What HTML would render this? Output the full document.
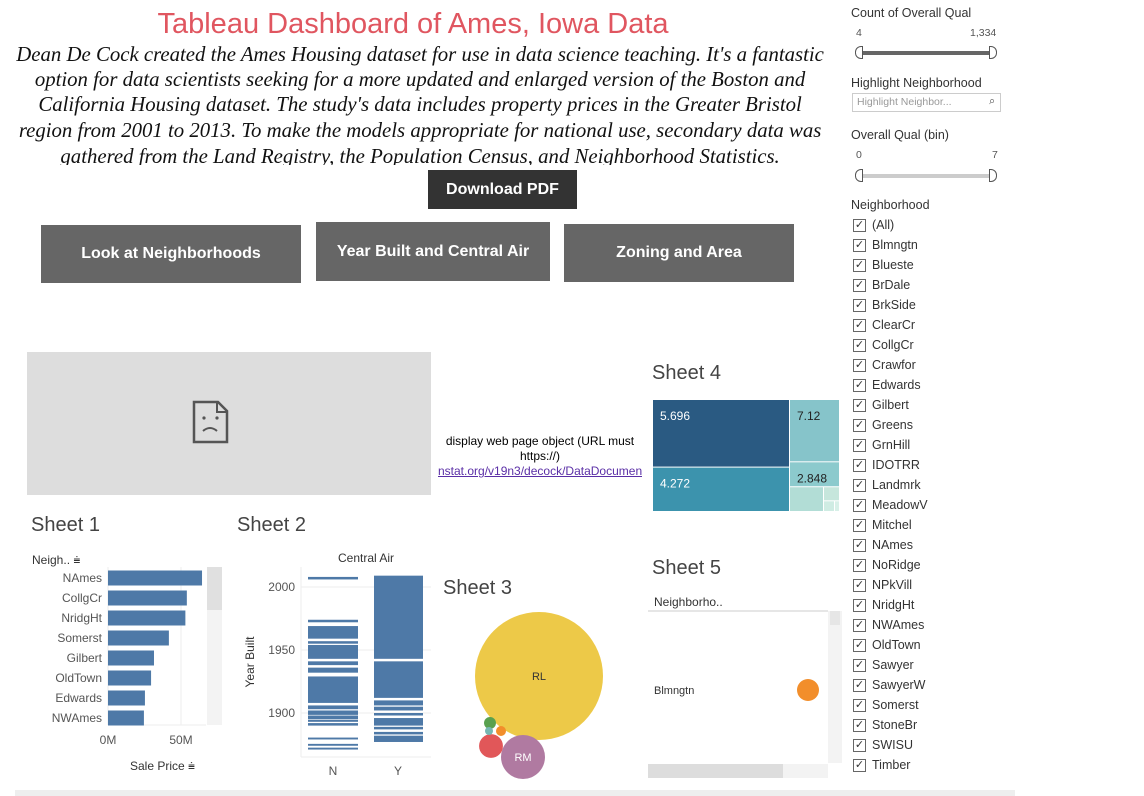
<!DOCTYPE html>
<html><head><meta charset="utf-8">
<style>
*{box-sizing:border-box;margin:0;padding:0}
body{width:1144px;height:796px;background:#fff;position:relative;overflow:hidden;font-family:"Liberation Sans",sans-serif;color:#333}
.abs{position:absolute}
.btn{position:absolute;background:#666;color:#fff;font-weight:bold;font-size:16px;display:flex;align-items:center;justify-content:center}
.para{position:absolute;left:0;width:840px;text-align:center;font-family:"Liberation Serif",serif;font-style:italic;font-size:21px;color:#111;white-space:nowrap;transform:scaleX(0.99);transform-origin:428px 0}
.sheet{position:absolute;font-size:20px;color:#444}
.cb{position:absolute;left:853px;font-size:12.5px;color:#333;height:20px;display:flex;align-items:center}
.cb span.box{width:13px;height:13px;border:1px solid #666;margin-right:6px;font-size:11px;line-height:11px;text-align:center;color:#333}
</style></head><body>
<div class="abs" style="left:0;width:826px;top:8px;text-align:center;font-size:29px;color:#e05660">Tableau Dashboard of Ames, Iowa Data</div>
<div class="abs" style="left:0;top:42px;width:845px;height:123px;overflow:hidden">
<div class="para" style="top:0">Dean De Cock created the Ames Housing dataset for use in data science teaching. It's a fantastic</div>
<div class="para" style="top:25px">option for data scientists seeking for a more updated and enlarged version of the Boston and</div>
<div class="para" style="top:50px">California Housing dataset. The study's data includes property prices in the Greater Bristol</div>
<div class="para" style="top:76px">region from 2001 to 2013. To make the models appropriate for national use, secondary data was</div>
<div class="para" style="top:102px">gathered from the Land Registry, the Population Census, and Neighborhood Statistics.</div>
</div>
<div class="btn" style="left:428px;top:170px;width:149px;height:39px;background:#333">Download PDF</div>
<div class="btn" style="left:41px;top:225px;width:260px;height:58px">Look at Neighborhoods</div>
<div class="btn" style="left:316px;top:222px;width:234px;height:59px">Year Built and Central Air</div>
<div class="btn" style="left:564px;top:224px;width:230px;height:58px">Zoning and Area</div>

<div class="abs" style="left:27px;top:352px;width:404px;height:143px;background:#ddd">
<svg width="404" height="143"><path d="M167 50 h24 l9 9 v31 h-33 z" fill="none" stroke="#555" stroke-width="2.5"/><path d="M190 50 v10 h10" fill="none" stroke="#555" stroke-width="2"/><circle cx="177" cy="66" r="1.6" fill="#555"/><circle cx="190" cy="66" r="1.6" fill="#555"/><path d="M176 79 q7 -6 14 0" fill="none" stroke="#555" stroke-width="2"/></svg></div>
<div class="abs" style="left:438px;top:434px;width:204px;font-size:12px;color:#000;text-align:center;line-height:15px;overflow:hidden;white-space:nowrap">display web page object (URL must<br>https://)<br><span style="color:#5a2ea6;text-decoration:underline;display:block;text-align:right">nstat.org/v19n3/decock/DataDocumentation</span></div>

<div class="sheet" style="left:652px;top:362px">Sheet 4</div>
<div class="sheet" style="left:31px;top:514px">Sheet 1</div>
<div class="sheet" style="left:237px;top:514px">Sheet 2</div>
<div class="sheet" style="left:443px;top:577px">Sheet 3</div>
<div class="sheet" style="left:652px;top:557px">Sheet 5</div>

<svg id="charts" class="abs" style="left:0;top:0" width="1144" height="796" font-family="Liberation Sans, sans-serif"></svg>

<div class="abs" style="left:851px;top:6px;font-size:12.5px">Count of Overall Qual</div>
<div class="abs" style="left:856px;top:27px;font-size:10.5px;color:#555">4</div>
<div class="abs" style="left:970px;top:27px;font-size:10.5px;color:#555">1,334</div>
<div class="abs" style="left:857px;top:51px;width:136px;height:4px;background:#666"></div>
<div class="abs" style="left:855px;top:46px;width:8px;height:13px;border:1px solid #555;border-radius:6px 0 0 6px;background:#fff"></div>
<div class="abs" style="left:989px;top:46px;width:8px;height:13px;border:1px solid #555;border-radius:0 6px 6px 0;background:#fff"></div>
<div class="abs" style="left:851px;top:76px;font-size:12.5px">Highlight Neighborhood</div>
<div class="abs" style="left:852px;top:93px;width:149px;height:19px;border:1px solid #ccc;font-size:10.5px;color:#999;padding:2px 4px">Highlight Neighbor...<span style="position:absolute;right:5px;top:1px;color:#444">⌕</span></div>
<div class="abs" style="left:851px;top:128px;font-size:12.5px">Overall Qual (bin)</div>
<div class="abs" style="left:856px;top:149px;font-size:10.5px;color:#555">0</div>
<div class="abs" style="left:992px;top:149px;font-size:10.5px;color:#555">7</div>
<div class="abs" style="left:857px;top:174px;width:136px;height:4px;background:#ccc"></div>
<div class="abs" style="left:855px;top:169px;width:8px;height:13px;border:1px solid #555;border-radius:6px 0 0 6px;background:#fff"></div>
<div class="abs" style="left:989px;top:169px;width:8px;height:13px;border:1px solid #555;border-radius:0 6px 6px 0;background:#fff"></div>
<div class="abs" style="left:851px;top:198px;font-size:12.5px">Neighborhood</div>
<div id="cblist"></div>
<div class="abs" style="left:15px;top:790px;width:1000px;height:6px;background:#eee"></div>

<script>
const nbList=["(All)","Blmngtn","Blueste","BrDale","BrkSide","ClearCr","CollgCr","Crawfor","Edwards","Gilbert","Greens","GrnHill","IDOTRR","Landmrk","MeadowV","Mitchel","NAmes","NoRidge","NPkVill","NridgHt","NWAmes","OldTown","Sawyer","SawyerW","Somerst","StoneBr","SWISU","Timber"];
const s1Cats=["NAmes","CollgCr","NridgHt","Somerst","Gilbert","OldTown","Edwards","NWAmes"];
const s1Vals=[64.4,54,53,41.7,31.5,29.5,25.3,24.6];
const s1Ticks=[0,50];
const s2Ticks=[1900,1950,2000];
const s2N=[[2006,2008],[1972,1974],[1959,1969],[1955,1957],[1943,1954],[1938,1941],[1932,1936],[1908,1929],[1903,1906],[1898.5,1902],[1895,1898],[1893,1894.5],[1890,1892],[1879,1880.5],[1874,1875.5],[1871,1872.5]];
const s2Y=[[1943,2009],[1912,1941],[1906,1910],[1902,1905],[1898,1900],[1890,1896],[1887,1889],[1883,1885],[1877,1882]];
const s3Labels=["RL","RM","C","FV","RH","A"];
const s3Vals=[1151,136,40,7,10,4.5];
const tmVals=[5.696,4.272,7.12,2.848,1.0,0.4,0.2,0.1];
const s5Cats=["Blmngtn"];
const s5Vals=[1];

const NS="http://www.w3.org/2000/svg";
const svg=document.getElementById('charts');
function mk(t,a,p){const e=document.createElementNS(NS,t);for(const k in a)e.setAttribute(k,a[k]);(p||svg).appendChild(e);return e;}
function txt(x,y,s,a){const e=mk('text',Object.assign({x:x,y:y,'font-size':12,fill:'#555'},a||{}));e.textContent=s;return e;}

const cbl=document.getElementById('cblist');
nbList.forEach((n,i)=>{const d=document.createElement('div');d.className='cb';d.style.top=(215+i*20)+'px';


d.innerHTML='<span class="box">✓</span>'+n;cbl.appendChild(d);});

const x1=v=>108+v*1.46, y1=i=>578+i*20;
s1Ticks.forEach(t=>{mk('line',{x1:x1(t),x2:x1(t),y1:567,y2:725,stroke:'#eee'});txt(x1(t),744,t+'M',{'text-anchor':'middle'});});
mk('line',{x1:108,x2:206,y1:725,y2:725,stroke:'#eee'});
s1Cats.forEach((c,i)=>{const r=mk('rect',{x:x1(0),y:y1(i)-7.5,width:x1(s1Vals[i])-x1(0),height:15,fill:'#4e79a7'});


txt(102,y1(i)+4,c,{'text-anchor':'end'});});
mk('rect',{x:207,y:567,width:15,height:158,fill:'#f3f3f3'});
mk('rect',{x:207,y:567,width:15,height:43,fill:'#e0e0e0'});
txt(32,564,'Neigh.. ⩧',{fill:'#333'});
txt(130,770,'Sale Price ⩧',{fill:'#333'});

const y2=v=>587-(v-2000)*1.26;
s2Ticks.forEach(t=>{mk('line',{x1:301,x2:431,y1:y2(t),y2:y2(t),stroke:'#eee'});txt(295,y2(t)+4,t,{'text-anchor':'end'});});
mk('line',{x1:301,x2:301,y1:567,y2:757,stroke:'#eee'});
mk('line',{x1:301,x2:431,y1:757,y2:757,stroke:'#eee'});
txt(366,562,'Central Air',{'text-anchor':'middle',fill:'#333'});
txt(254,662,'Year Built',{'text-anchor':'middle',fill:'#333',transform:'rotate(-90 254 662)'});
txt(333,775,'N',{'text-anchor':'middle'});txt(398,775,'Y',{'text-anchor':'middle'});
s2N.forEach(s=>{const r=mk('rect',{x:308,y:y2(s[1]),width:50,height:Math.max(1.5,y2(s[0])-y2(s[1])),fill:'#4e79a7'});

});
s2Y.forEach(s=>{const r=mk('rect',{x:374,y:y2(s[1]),width:49,height:Math.max(1.5,y2(s[0])-y2(s[1])),fill:'#4e79a7'});

});

const s3Pos=[[539,676],[523,757],[491,746],[501,731],[490,723],[489,731]];
const s3Col=['#edc948','#b07aa1','#e15759','#f28e2b','#59a14f','#76b7b2'];
s3Vals.forEach((v,i)=>{const r=64*Math.sqrt(v/s3Vals[0]);const c=mk('circle',{cx:s3Pos[i][0],cy:s3Pos[i][1],r:Math.max(3.5,r),fill:s3Col[i]});


if(i<2)txt(s3Pos[i][0],s3Pos[i][1]+4,s3Labels[i],{'text-anchor':'middle',fill:i==0?'#333':'#fff','font-size':11});});

const tmCol=['#2a5a82','#3c93ad','#86c4ca','#8ccacd','#b2ddd6','#c6e6dc','#cfece3','#d8f0e8'];
const L0=653,L1=789,R1=839,T=400,B=511;
const leftSum=tmVals[0]+tmVals[1];
const hA=(B-T)*tmVals[0]/leftSum*1.05;
[[L0,T,L1-L0,hA],[L0,T+hA+1,L1-L0,B-T-hA-1]].forEach((g,i)=>{const r=mk('rect',{x:g[0],y:g[1],width:g[2],height:g[3],fill:tmCol[i]});


txt(g[0]+7,g[1]+20,tmVals[i].toFixed(3),{fill:'#fff','font-size':12});});
const rs=tmVals.slice(2).reduce((a,b)=>a+b,0);
let yy=T;
[2,3].forEach(i=>{const h=(B-T)*tmVals[i]/rs*0.92;const r=mk('rect',{x:L1+1,y:yy,width:R1-L1-1,height:h-1,fill:tmCol[i]});


txt(L1+8,yy+20,String(tmVals[i]),{fill:'#222','font-size':12});yy+=h;});
const rem=B-yy;
mk('rect',{x:L1+1,y:yy,width:33,height:rem,fill:tmCol[4]});
mk('rect',{x:L1+35,y:yy,width:R1-L1-35,height:rem*0.55,fill:tmCol[5]});
mk('rect',{x:L1+35,y:yy+rem*0.55+1,width:10,height:rem*0.45-1,fill:tmCol[6]});
mk('rect',{x:L1+46,y:yy+rem*0.55+1,width:4,height:rem*0.45-1,fill:tmCol[7]});

txt(654,606,'Neighborho..',{fill:'#333'});
mk('line',{x1:648,x2:828,y1:611,y2:611,stroke:'#ccc'});
mk('rect',{x:828,y:611,width:14,height:152,fill:'#f3f3f3'});
mk('rect',{x:830,y:611,width:10,height:14,fill:'#e6e6e6'});
mk('rect',{x:648,y:764,width:180,height:14,fill:'#f3f3f3'});
mk('rect',{x:648,y:764,width:135,height:14,fill:'#ddd'});
s5Cats.forEach((c,i)=>{txt(654,694+i*20,c,{fill:'#333','font-size':11});
const d=mk('circle',{cx:808,cy:690+i*20,r:11*s5Vals[i],fill:'#f28e2b'});

});
</script>
</body></html>
